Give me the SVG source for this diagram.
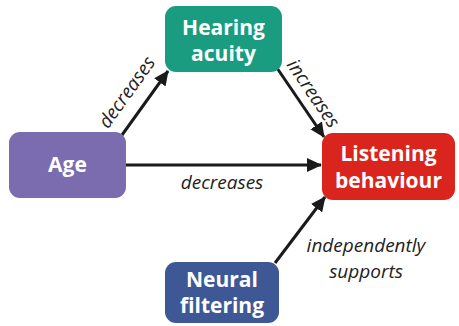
<svg xmlns="http://www.w3.org/2000/svg" width="459" height="326" viewBox="0 0 459 326">
<defs>
<style>
.node text{font-family:"Open Sans","Noto Sans",sans-serif;font-weight:bold;font-size:21px;fill:#ffffff;text-anchor:middle}
.lbl{font-family:"Open Sans","Noto Sans",sans-serif;font-style:italic;font-size:19px;fill:#222222;text-anchor:middle}
.conn line{stroke:#1a1a1a;stroke-width:3;fill:none}
</style>
<marker id="ah" markerUnits="userSpaceOnUse" markerWidth="16" markerHeight="14" refX="14" refY="7" orient="auto">
<path d="M0,0 L15,7 L0,14 Z" fill="#1a1a1a"/>
</marker>
</defs>
<rect width="459" height="326" fill="#ffffff"/>
<g id="connectors" class="conn">
<line x1="122" y1="135" x2="168" y2="71" marker-end="url(#ah)"/>
<line x1="277" y1="68" x2="324" y2="137" marker-end="url(#ah)"/>
<line x1="126" y1="165" x2="321" y2="165" marker-end="url(#ah)"/>
<line x1="275" y1="263" x2="325" y2="197" marker-end="url(#ah)"/>
</g>
<g id="labels">
<text class="lbl" transform="translate(132,96) rotate(-54.3)">decreases</text>
<text class="lbl" transform="translate(308,97) rotate(55.7)">increases</text>
<text class="lbl" x="222" y="189">decreases</text>
<text class="lbl" x="366" y="252">independently</text>
<text class="lbl" x="366" y="278">supports</text>
</g>
<g id="hearing" class="node">
<rect x="165" y="6" width="117" height="66" rx="11" fill="#1a9c80"/>
<text x="223.5" y="35">Hearing</text>
<text x="223.5" y="61">acuity</text>
</g>
<g id="age" class="node">
<rect x="9" y="132" width="117" height="66" rx="11" fill="#7b6cb0"/>
<text x="67.5" y="172">Age</text>
</g>
<g id="listening" class="node">
<rect x="322" y="133" width="133" height="67" rx="11" fill="#d9251e"/>
<text x="388.5" y="161">Listening</text>
<text x="388.5" y="188">behaviour</text>
</g>
<g id="neural" class="node">
<rect x="165" y="262" width="114" height="61" rx="11" fill="#3e5895"/>
<text x="222" y="287">Neural</text>
<text x="222" y="313">filtering</text>
</g>
</svg>
